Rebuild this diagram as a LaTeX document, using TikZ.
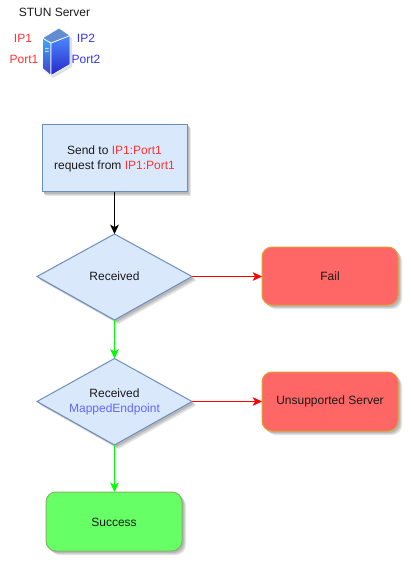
\documentclass[tikz,border=0pt]{standalone}
\usepackage{fontspec}
\setmainfont{Liberation Sans}
\usetikzlibrary{arrows.meta,calc}
\definecolor{boxfill}{HTML}{DAE8FC}
\definecolor{boxline}{HTML}{6C8EBF}
\definecolor{redfill}{HTML}{FF6666}
\definecolor{redline}{HTML}{E0A030}
\definecolor{greenfill}{HTML}{66FF66}
\definecolor{greenline}{HTML}{82B366}
\definecolor{ipred}{HTML}{FF3333}
\definecolor{ipblue}{HTML}{3333FF}
\definecolor{mapped}{HTML}{6666FF}
\definecolor{txt}{HTML}{1A1A1A}
\newcommand{\softcast}[2][]{%
  \fill[black!10,#1,shift={(4,4)}] #2;
  \fill[black!18,#1,shift={(3,3)}] #2;
  \fill[black!28,#1,shift={(2,2)}] #2;
}
\tikzset{
  x=0.75pt,y=-0.75pt,
  every node/.style={font=\fontsize{9pt}{11.25pt}\selectfont,text=txt,align=center,inner sep=0pt},
  procbox/.style={draw=boxline,fill=boxfill,line width=0.75pt},
  decision/.style={draw=boxline,fill=boxfill,line width=0.75pt},
  failbox/.style={rounded corners=7.5pt,draw=redline,fill=redfill,line width=0.75pt},
  okbox/.style={rounded corners=7.5pt,draw=greenline,fill=greenfill,line width=0.75pt},
  link/.style={line width=0.75pt,-{Stealth[length=7pt,width=6.5pt,inset=1.8pt]}},
}
\begin{document}
\begin{tikzpicture}
\useasboundingbox (0,0) rectangle (410,563);
% server icon
\fill[black,opacity=0.12] (44,41) -- (59,30) -- (72,38) -- (72,67) -- (53,78) -- (44,71) -- cycle;
\shade[top color=cyan!55!blue!75,bottom color=blue!70!black!75,draw=white,line width=0.5pt] (42.5,38) -- (51,43) -- (51,75.5) -- (42.5,68.5) -- cycle;
\shade[top color=blue!65!cyan!70,bottom color=blue!75!black!85,draw=white,line width=0.5pt] (51,43) -- (70,35.5) -- (70,64.5) -- (51,75.5) -- cycle;
\fill[cyan!45!blue!65,draw=white,line width=0.5pt] (42.5,38) -- (59,28) -- (70,35.5) -- (51,43) -- cycle;
\fill[white,opacity=0.7] (45,48) rectangle (48.5,49.2) (45,50.8) rectangle (48.5,52);
\node (title) at (54.5,12.5) {STUN Server};
\node[text=ipred] (ipa) at (23,38) {IP1};
\node[text=ipred] (porta) at (24,59) {Port1};
\node[text=ipblue] (ipb) at (86,38) {IP2};
\node[text=ipblue] (portb) at (86,59) {Port2};
% flow
\softcast{(42,124.5) rectangle (187,191.5)}
\path[procbox] (42,124.5) rectangle (187,191.5);
\coordinate (sendS) at (114.5,191.5);
\node (send) at (114.5,158.5) {Send to \textcolor{ipred}{IP1:Port1}\\request from \textcolor{ipred}{IP1:Port1}};
\softcast{(114.5,234) -- (192,276.5) -- (114.5,320) -- (37,276.5) -- cycle}
\path[decision] (114.5,234) -- (192,276.5) -- (114.5,320) -- (37,276.5) -- cycle;
\coordinate (d1N) at (114.5,234);\coordinate (d1E) at (192,276.5);\coordinate (d1S) at (114.5,320);
\node (recv) at (114.5,276) {Received};
\softcast{(114.5,358.5) -- (192,401.5) -- (114.5,445) -- (37,401.5) -- cycle}
\path[decision] (114.5,358.5) -- (192,401.5) -- (114.5,445) -- (37,401.5) -- cycle;
\coordinate (d2N) at (114.5,358.5);\coordinate (d2E) at (192,401.5);\coordinate (d2S) at (114.5,445);
\node (recvm) at (114.5,402.3) {Received\\\textcolor{mapped}{MappedEndpoint}};
\softcast[rounded corners=7.5pt]{(262,247) rectangle (398,305)}
\path[failbox] (262,247) rectangle (398,305);
\coordinate (failW) at (262,276.5);
\node (fail) at (330,276) {Fail};
\softcast[rounded corners=7.5pt]{(262,372) rectangle (398,431)}
\path[failbox] (262,372) rectangle (398,431);
\coordinate (unsW) at (262,401.5);
\node (uns) at (330,401) {Unsupported Server};
\softcast[rounded corners=7.5pt]{(46,492) rectangle (182,551)}
\path[okbox] (46,492) rectangle (182,551);
\coordinate (okN) at (114.5,492);
\node (ok) at (114,522) {Success};
\draw[link,black] (sendS) -- (d1N);
\draw[link,red] (d1E) -- (failW);
\draw[link,green] (d1S) -- (d2N);
\draw[link,red] (d2E) -- (unsW);
\draw[link,green] (d2S) -- (okN);
\end{tikzpicture}
\end{document}
